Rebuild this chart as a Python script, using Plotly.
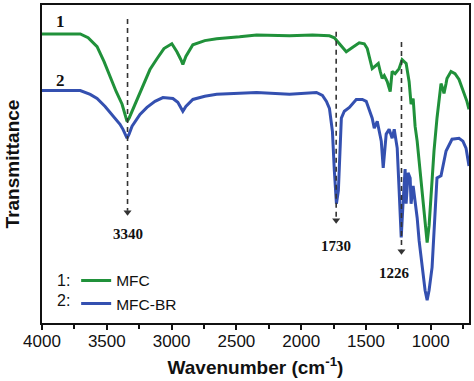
import plotly.graph_objects as go

# ---- data ----
wn_mfc = [4000, 3859, 3705, 3644, 3575, 3521, 3475, 3428, 3382, 3359, 3344, 3328, 3305, 3267,
          3221, 3167, 3113, 3059, 2998, 2959, 2928, 2913, 2890, 2836, 2744, 2652, 2475, 2344,
          2090, 1913, 1782, 1744, 1705, 1652, 1605, 1552, 1513, 1490, 1452, 1428, 1405, 1390,
          1375, 1359, 1336, 1313, 1298, 1275, 1244, 1221, 1205, 1190, 1167, 1152, 1136, 1121,
          1105, 1090, 1075, 1052, 1036, 1028, 1013, 998, 975, 952, 936, 921, 905, 898, 882, 875,
          844, 813, 782, 752, 721, 705]
t_mfc = [90.9, 90.9, 90.9, 89.7, 86.9, 82.2, 77.5, 72.8, 68.8, 65.6, 63.4, 64.4, 66.6, 70.3,
         74.4, 79.7, 83.1, 86.3, 87.8, 85.3, 82.8, 81.3, 83.8, 87.5, 88.8, 89.4, 90.0, 90.6,
         90.3, 90.6, 90.3, 89.7, 87.8, 85.3, 86.6, 88.1, 87.8, 86.3, 80.0, 80.9, 81.6, 79.1,
         76.9, 77.8, 75.9, 72.8, 79.1, 78.4, 80.0, 82.8, 82.2, 81.6, 75.9, 68.8, 70.6, 61.9,
         57.2, 50.9, 44.7, 35.3, 27.5, 25.3, 30.6, 40.6, 54.1, 64.4, 71.3, 75.3, 73.4, 72.2, 75.3, 76.9,
         79.1, 78.4, 76.6, 73.4, 69.7, 67.2]

wn_br = [4000, 3705, 3628, 3575, 3513, 3452, 3398, 3375, 3344, 3328, 3305, 3244, 3190, 3128,
         3067, 2990, 2952, 2913, 2890, 2836, 2744, 2652, 2344, 2090, 1882, 1836, 1805, 1782,
         1759, 1744, 1736, 1728, 1713, 1698, 1690, 1667, 1628, 1575, 1528, 1498, 1475, 1452,
         1436, 1413, 1390, 1382, 1367, 1352, 1344, 1321, 1298, 1282, 1259, 1244, 1228, 1213,
         1198, 1190, 1175, 1159, 1152, 1136, 1121, 1105, 1090, 1067, 1044, 1028, 1013, 990,
         975, 959, 952, 921, 898, 882, 836, 782, 752, 728, 705]
t_br = [73.1, 73.1, 71.9, 70.6, 68.1, 65.0, 62.5, 60.9, 58.1, 59.4, 61.9, 65.6, 67.8, 69.7,
        70.9, 70.6, 69.4, 66.6, 68.1, 70.3, 71.3, 71.9, 72.5, 71.9, 72.5, 71.6, 69.7, 67.5,
        60.3, 47.8, 40.0, 37.5, 41.6, 54.1, 64.4, 66.6, 67.8, 70.3, 70.3, 69.7, 67.2, 64.4,
        61.3, 63.4, 58.8, 57.2, 48.8, 57.2, 59.4, 60.9, 58.1, 60.9, 55.0, 41.6, 26.9, 38.4,
        48.4, 37.5, 47.2, 45.6, 37.5, 43.1, 38.4, 33.1, 25.9, 17.5, 10.3, 7.2, 10.3, 17.5,
        29.1, 38.4, 45.6, 46.3, 50.9, 54.1, 57.8, 58.1, 57.2, 55.0, 49.4]

series_names = ["MFC", "MFC-BR"]
series_ids = ["1", "2"]
peak_labels = [3340, 1730, 1226]
x_ticks = [4000, 3500, 3000, 2500, 2000, 1500, 1000]

GREEN = "#20913a"
BLUE = "#3450b0"
DARK = "#333333"

fig = go.Figure()
fig.add_trace(go.Scatter(x=wn_mfc, y=t_mfc, mode="lines", name=series_names[0],
                         line=dict(color=GREEN, width=3)))
fig.add_trace(go.Scatter(x=wn_br, y=t_br, mode="lines", name=series_names[1],
                         line=dict(color=BLUE, width=3)))

# dashed guide lines with arrows and labels
line_top = [95.6, 91.6, 88.4]
arrow_tip = [33.8, 31.3, 21.6]
label_y = [28.1, 24.1, 15.6]
label_dx = [0, 0, -7]
for pk, top, tip, ly, dx in zip(peak_labels, line_top, arrow_tip, label_y, label_dx):
    fig.add_shape(type="line", x0=pk, x1=pk, y0=top, y1=tip + 1.5,
                  xref="x", yref="y",
                  line=dict(color=DARK, width=1.6, dash="5px,4px"))
    fig.add_annotation(x=pk, y=ly, xref="x", yref="y", xshift=dx,
                       text="<b>%d</b>" % pk, showarrow=False,
                       font=dict(family="Liberation Serif", size=15, color="#111111"))
fig.add_trace(go.Scatter(x=peak_labels, y=[t + 1.0 for t in arrow_tip], mode="markers",
                         marker=dict(symbol="triangle-down", size=7, color=DARK),
                         showlegend=False, hoverinfo="skip"))

# curve numbers
fig.add_annotation(x=3859, y=94.7, xref="x", yref="y", text="<b>1</b>", showarrow=False,
                   font=dict(family="Liberation Serif", size=17, color="#111111"))
fig.add_annotation(x=3859, y=76.3, xref="x", yref="y", text="<b>2</b>", showarrow=False,
                   font=dict(family="Liberation Serif", size=17, color="#111111"))

# legend prefixes
for sid, py in zip(series_ids, [13.4, 7.2]):
    fig.add_annotation(x=3837, y=py, xref="x", yref="y", text=sid + ":",
                       showarrow=False, yanchor="middle",
                       font=dict(family="Liberation Sans", size=16, color="#111111"))

fig.update_layout(
    width=474, height=381,
    margin=dict(l=42, r=4, t=3, b=58),
    paper_bgcolor="white", plot_bgcolor="white",
    font=dict(family="Liberation Sans", color="#111111"),
    showlegend=True,
    legend=dict(x=0.08, y=0.186, xanchor="left", yanchor="top",
                bgcolor="rgba(0,0,0,0)", borderwidth=0,
                font=dict(family="Liberation Sans", size=15.5, color="#111111"),
                tracegroupgap=0),
)
fig.update_xaxes(range=[4000, 705], tickmode="array", tickvals=x_ticks,
                 ticktext=[str(v) for v in x_ticks],
                 ticks="outside", ticklen=5, tickwidth=1.5, tickcolor="#111111",
                 ticklabelstandoff=-3,
                 minor=dict(dtick=250, tick0=0, ticks="outside", ticklen=4,
                            tickwidth=1.5, tickcolor="#111111"),
                 showline=True, linewidth=2, linecolor="#111111", mirror=True,
                 showgrid=False, zeroline=False,
                 tickfont=dict(family="Liberation Sans", size=17, color="#111111"),
                 title=dict(text="<b>Wavenumber (cm<sup>-1</sup>)</b>",
                            font=dict(family="Liberation Sans", size=19, color="#111111"),
                            standoff=10))
fig.update_yaxes(range=[0, 100], showticklabels=False, ticks="",
                 showline=True, linewidth=2, linecolor="#111111", mirror=True,
                 showgrid=False, zeroline=False,
                 title=dict(text="<b>Transmittance</b>",
                            font=dict(family="Liberation Sans", size=19, color="#111111"),
                            standoff=15))

fig.write_html("out.html", config={"displayModeBar": False},
               post_script="document.body.style.margin='0';")
